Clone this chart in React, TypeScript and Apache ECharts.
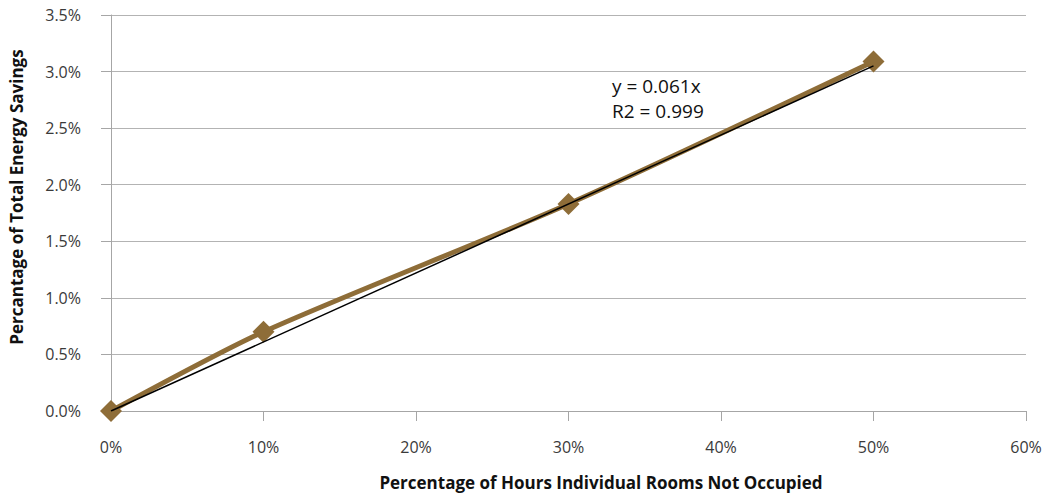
import React, { useEffect, useRef } from "react";
import * as echarts from "echarts";

const hoursNotOccupied = [0, 10, 30, 50];
const energySavings = [0, 0.7, 1.83, 3.09];
const trendX = [0, 50];
const trendY = [0, 3.05];
const equationLines = ["y = 0.061x", "R2 = 0.999"];
const xTitle = "Percentage of Hours Individual Rooms Not Occupied";
const yTitle = "Percantage of Total Energy Savings";

const FONT = "'Open Sans', 'Noto Sans', sans-serif";
const BROWN = "#8E6D38";

export default function App() {
  const ref = useRef<HTMLDivElement>(null);
  useEffect(() => {
    if (!ref.current) return;
    const chart = echarts.init(ref.current, null, { renderer: "svg" });
    chart.setOption({
      animation: false,
      backgroundColor: "#ffffff",
      grid: { left: 111, right: 23, top: 15, bottom: 85 },
      xAxis: {
        type: "value",
        min: 0,
        max: 60,
        interval: 10,
        axisLine: { show: true, lineStyle: { color: "#A6A6A6", width: 1 } },
        axisTick: { show: true, length: 10, lineStyle: { color: "#A6A6A6" } },
        axisLabel: {
          margin: 28,
          fontFamily: FONT,
          fontSize: 16,
          color: "#3a3a3a",
          formatter: (v: number) => `${v}%`,
        },
        splitLine: { show: false },
      },
      yAxis: {
        type: "value",
        min: 0,
        max: 3.5,
        interval: 0.5,
        axisLine: { show: true, lineStyle: { color: "#A6A6A6", width: 1 } },
        axisTick: { show: true, length: 10, lineStyle: { color: "#A6A6A6" } },
        axisLabel: {
          margin: 30,
          fontFamily: FONT,
          fontSize: 16,
          color: "#3a3a3a",
          formatter: (v: number) => `${v.toFixed(1)}%`,
        },
        splitLine: { show: true, lineStyle: { color: "#B3B3B3", width: 1 } },
      },
      series: [
        {
          type: "line",
          data: hoursNotOccupied.map((x, i) => [x, energySavings[i]]),
          smooth: 0.25,
          symbol: "diamond",
          symbolSize: 22,
          itemStyle: { color: BROWN },
          lineStyle: { color: BROWN, width: 5 },
          z: 2,
        },
        {
          type: "line",
          data: trendX.map((x, i) => [x, trendY[i]]),
          symbol: "none",
          lineStyle: { color: "#000000", width: 1.5 },
          z: 3,
        },
      ],
      graphic: [
        {
          type: "text",
          x: 16,
          y: 197,
          rotation: Math.PI / 2,
          style: {
            text: yTitle,
            fontFamily: FONT,
            fontSize: 17,
            fontWeight: "bold",
            fill: "#111111",
            align: "center",
            verticalAlign: "middle",
          },
        },
        {
          type: "text",
          x: 601,
          y: 482,
          style: {
            text: xTitle,
            fontFamily: FONT,
            fontSize: 17,
            fontWeight: "bold",
            fill: "#111111",
            align: "center",
            verticalAlign: "middle",
          },
        },
        {
          type: "text",
          left: 612,
          top: 73,
          style: {
            text: equationLines.join("\n"),
            fontFamily: FONT,
            fontSize: 19,
            lineHeight: 25,
            fill: "#111111",
          },
        },
      ],
    });
    return () => chart.dispose();
  }, []);
  return (
    <div
      ref={ref}
      style={{ position: "fixed", left: 0, top: 0, width: 1049, height: 496 }}
    />
  );
}
